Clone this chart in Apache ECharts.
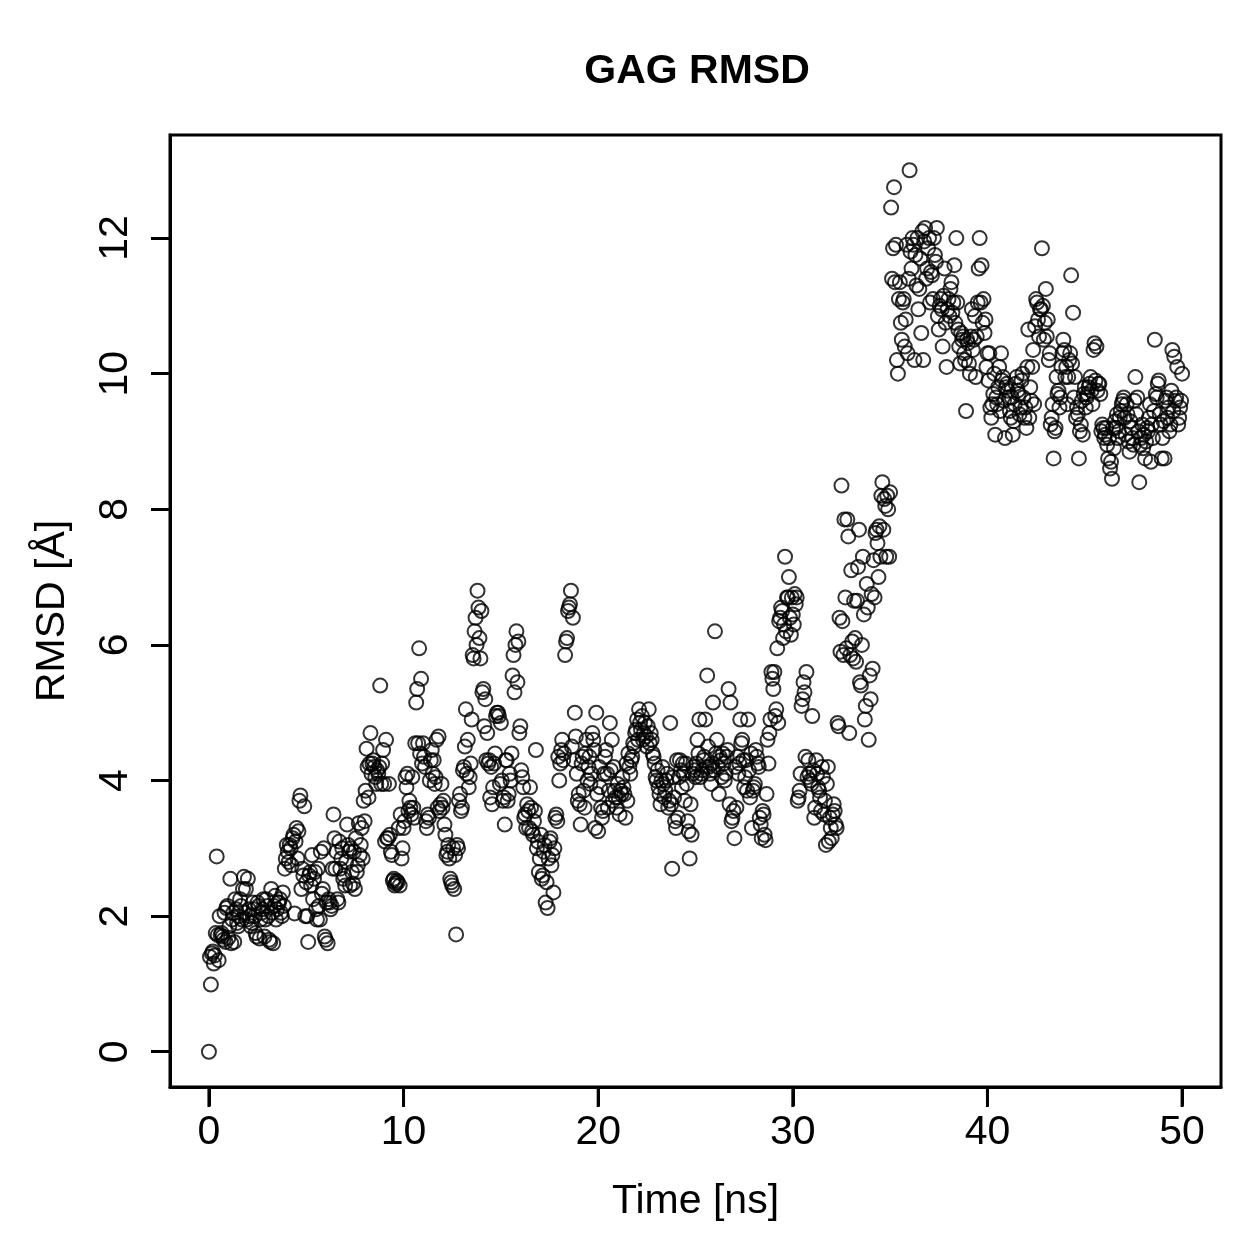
<!DOCTYPE html>
<html>
<head>
<meta charset="utf-8">
<title>GAG RMSD</title>
<script src="https://cdn.jsdelivr.net/npm/echarts@6/dist/echarts.min.js"></script>
<style>
  html, body { margin: 0; padding: 0; background: #fff; }
  #chart { width: 1259px; height: 1259px; }
</style>
</head>
<body>
<div id="chart"></div>
<script>
// frames on the whole 0.1 ns grid
const time = [
  0, 0.1, 0.2, 0.3, 0.4, 0.5, 0.6, 0.7, 0.8, 0.9,
  1.0, 1.1, 1.2, 1.3, 1.4, 1.5, 1.6, 1.7, 1.8, 1.9,
  2.0, 2.1, 2.2, 2.3, 2.4, 2.5, 2.6, 2.7, 2.8, 2.9,
  3.0, 3.1, 3.2, 3.3, 3.4, 3.5, 3.6, 3.7, 3.8, 3.9,
  4.0, 4.1, 4.2, 4.3, 4.4, 4.5, 4.6, 4.7, 4.8, 4.9,
  5.0, 5.1, 5.2, 5.3, 5.4, 5.5, 5.6, 5.7, 5.8, 5.9,
  6.0, 6.1, 6.2, 6.3, 6.4, 6.5, 6.6, 6.7, 6.8, 6.9,
  7.0, 7.1, 7.2, 7.3, 7.4, 7.5, 7.6, 7.7, 7.8, 7.9,
  8.0, 8.1, 8.2, 8.3, 8.4, 8.5, 8.6, 8.7, 8.8, 8.9,
  9.0, 9.1, 9.2, 9.3, 9.4, 9.5, 9.6, 9.7, 9.8, 9.9,
  10.0, 10.1, 10.2, 10.3, 10.4, 10.5, 10.6, 10.7, 10.8, 10.9,
  11.0, 11.1, 11.2, 11.3, 11.4, 11.5, 11.6, 11.7, 11.8, 11.9,
  12.0, 12.1, 12.2, 12.3, 12.4, 12.5, 12.6, 12.7, 12.8, 12.9,
  13.0, 13.1, 13.2, 13.3, 13.4, 13.5, 13.6, 13.7, 13.8, 13.9,
  14.0, 14.1, 14.2, 14.3, 14.4, 14.5, 14.6, 14.7, 14.8, 14.9,
  15.0, 15.1, 15.2, 15.3, 15.4, 15.5, 15.6, 15.7, 15.8, 15.9,
  16.0, 16.1, 16.2, 16.3, 16.4, 16.5, 16.6, 16.7, 16.8, 16.9,
  17.0, 17.1, 17.2, 17.3, 17.4, 17.5, 17.6, 17.7, 17.8, 17.9,
  18.0, 18.1, 18.2, 18.3, 18.4, 18.5, 18.6, 18.7, 18.8, 18.9,
  19.0, 19.1, 19.2, 19.3, 19.4, 19.5, 19.6, 19.7, 19.8, 19.9,
  20.0, 20.1, 20.2, 20.3, 20.4, 20.5, 20.6, 20.7, 20.8, 20.9,
  21.0, 21.1, 21.2, 21.3, 21.4, 21.5, 21.6, 21.7, 21.8, 21.9,
  22.0, 22.1, 22.2, 22.3, 22.4, 22.5, 22.6, 22.7, 22.8, 22.9,
  23.0, 23.1, 23.2, 23.3, 23.4, 23.5, 23.6, 23.7, 23.8, 23.9,
  24.0, 24.1, 24.2, 24.3, 24.4, 24.5, 24.6, 24.7, 24.8, 24.9,
  25.0, 25.1, 25.2, 25.3, 25.4, 25.5, 25.6, 25.7, 25.8, 25.9,
  26.0, 26.1, 26.2, 26.3, 26.4, 26.5, 26.6, 26.7, 26.8, 26.9,
  27.0, 27.1, 27.2, 27.3, 27.4, 27.5, 27.6, 27.7, 27.8, 27.9,
  28.0, 28.1, 28.2, 28.3, 28.4, 28.5, 28.6, 28.7, 28.8, 28.9,
  29.0, 29.1, 29.2, 29.3, 29.4, 29.5, 29.6, 29.7, 29.8, 29.9,
  30.0, 30.1, 30.2, 30.3, 30.4, 30.5, 30.6, 30.7, 30.8, 30.9,
  31.0, 31.1, 31.2, 31.3, 31.4, 31.5, 31.6, 31.7, 31.8, 31.9,
  32.0, 32.1, 32.2, 32.3, 32.4, 32.5, 32.6, 32.7, 32.8, 32.9,
  33.0, 33.1, 33.2, 33.3, 33.4, 33.5, 33.6, 33.7, 33.8, 33.9,
  34.0, 34.1, 34.2, 34.3, 34.4, 34.5, 34.6, 34.7, 34.8, 34.9,
  35.0, 35.1, 35.2, 35.3, 35.4, 35.5, 35.6, 35.7, 35.8, 35.9,
  36.0, 36.1, 36.2, 36.3, 36.4, 36.5, 36.6, 36.7, 36.8, 36.9,
  37.0, 37.1, 37.2, 37.3, 37.4, 37.5, 37.6, 37.7, 37.8, 37.9,
  38.0, 38.1, 38.2, 38.3, 38.4, 38.5, 38.6, 38.7, 38.8, 38.9,
  39.0, 39.1, 39.2, 39.3, 39.4, 39.5, 39.6, 39.7, 39.8, 39.9,
  40.0, 40.1, 40.2, 40.3, 40.4, 40.5, 40.6, 40.7, 40.8, 40.9,
  41.0, 41.1, 41.2, 41.3, 41.4, 41.5, 41.6, 41.7, 41.8, 41.9,
  42.0, 42.1, 42.2, 42.3, 42.4, 42.5, 42.6, 42.7, 42.8, 42.9,
  43.0, 43.1, 43.2, 43.3, 43.4, 43.5, 43.6, 43.7, 43.8, 43.9,
  44.0, 44.1, 44.2, 44.3, 44.4, 44.5, 44.6, 44.7, 44.8, 44.9,
  45.0, 45.1, 45.2, 45.3, 45.4, 45.5, 45.6, 45.7, 45.8, 45.9,
  46.0, 46.1, 46.2, 46.3, 46.4, 46.5, 46.6, 46.7, 46.8, 46.9,
  47.0, 47.1, 47.2, 47.3, 47.4, 47.5, 47.6, 47.7, 47.8, 47.9,
  48.0, 48.1, 48.2, 48.3, 48.4, 48.5, 48.6, 48.7, 48.8, 48.9,
  49.0, 49.1, 49.2, 49.3, 49.4, 49.5, 49.6, 49.7, 49.8, 49.9,
  50.0
];

const rmsd = [
  0.00, 0.99, 1.48, 1.42, 2.88, 1.35, 1.72, 1.70, 2.05, 2.12,
  1.68, 2.55, 1.95, 1.62, 2.10, 1.85, 2.25, 1.95, 2.58, 2.40,
  2.55, 2.00, 1.90, 2.10, 1.75, 2.20, 1.67, 2.05, 2.25, 1.95,
  2.15, 1.65, 2.40, 1.60, 2.30, 2.10, 2.20, 2.05, 2.35, 2.70,
  3.05, 2.80, 3.00, 3.15, 2.04, 3.30, 3.25, 3.78, 2.70, 3.62,
  2.50, 1.62, 2.65, 2.90, 2.55, 2.10, 2.70, 1.95, 2.33, 3.00,
  1.65, 1.60, 2.20, 2.15, 3.50, 2.70, 2.25, 3.10, 2.85, 2.55,
  2.45, 3.35, 2.95, 3.00, 2.48, 2.40, 2.65, 3.37, 3.05, 2.85,
  3.40, 4.47, 3.75, 4.70, 4.25, 4.20, 3.95, 4.10, 5.40, 4.25,
  3.95, 4.60, 3.15, 3.20, 2.90, 2.55, 2.48, 2.50, 2.45, 2.85,
  3.30, 4.05, 4.10, 3.70, 3.50, 3.60, 4.55, 5.35, 5.95, 5.50,
  4.55, 4.20, 3.30, 3.45, 4.30, 4.10, 3.95, 4.60, 4.65, 3.65,
  3.60, 3.35, 2.90, 3.05, 2.55, 2.45, 2.40, 1.73, 3.00, 3.80,
  3.60, 4.20, 5.05, 4.60, 4.05, 4.90, 5.80, 6.40, 6.80, 6.10,
  6.50, 5.35, 5.20, 4.70, 4.30, 4.20, 3.90, 4.40, 5.00, 4.95,
  4.85, 3.70, 3.35, 4.30, 3.80, 4.00, 5.55, 5.30, 6.20, 6.05,
  4.80, 4.05, 3.45, 3.30, 3.55, 3.90, 3.25, 3.40, 4.45, 3.10,
  2.85, 2.55, 2.95, 2.20, 2.12, 3.10, 2.75, 2.35, 3.45, 3.40,
  4.00, 4.45, 4.30, 5.85, 6.10, 6.55, 6.80, 6.40, 5.00, 4.10,
  3.80, 3.35, 4.35, 3.60, 4.60, 4.20, 3.95, 4.70, 4.45, 5.00,
  3.25, 3.90, 3.45, 4.10, 4.45, 3.60, 4.85, 4.60, 4.20, 3.75,
  3.95, 3.50, 3.80, 3.90, 3.45, 3.70, 4.20, 4.30, 4.55, 4.70,
  4.90, 5.05, 4.75, 4.60, 4.85, 4.50, 5.05, 4.70, 4.40, 4.25,
  4.00, 3.90, 3.65, 4.20, 3.75, 4.00, 3.60, 4.85, 2.70, 3.75,
  3.30, 3.45, 4.30, 3.90, 4.10, 4.25, 3.40, 2.85, 3.20, 4.20,
  4.05, 4.60, 4.90, 4.10, 4.30, 4.90, 5.55, 4.20, 3.95, 5.15,
  6.20, 4.60, 3.80, 4.30, 4.40, 4.00, 4.35, 5.35, 5.15, 3.45,
  3.15, 3.60, 4.10, 4.90, 4.60, 3.90, 4.30, 4.90, 3.75, 3.30,
  3.90, 4.45, 4.25, 3.45, 3.15, 3.50, 3.12, 4.60, 4.70, 5.60,
  5.35, 4.95, 5.95, 6.35, 6.55, 6.10, 7.30, 6.70, 7.00, 6.15,
  6.45, 6.75, 6.70, 3.75, 4.10, 5.20, 5.30, 5.60, 4.30, 4.00,
  4.95, 3.45, 4.30, 3.90, 3.75, 4.20, 3.50, 3.05, 4.20, 3.45,
  3.15, 3.65, 3.35, 4.85, 6.40, 8.35, 5.85, 6.70, 7.85, 4.70,
  7.10, 5.80, 6.10, 6.65, 7.70, 5.40, 7.30, 4.90, 6.90, 4.60,
  5.20, 5.65, 6.70, 7.70, 7.00, 7.30, 8.40, 8.15, 7.30, 8.00,
  8.25, 11.40, 12.75, 11.90, 10.00, 11.35, 10.50, 11.10, 10.80, 10.30,
  13.00, 11.55, 11.90, 11.75, 12.00, 11.25, 10.60, 10.20, 12.15, 11.55,
  12.00, 11.50, 11.10, 11.75, 12.15, 10.65, 11.10, 10.40, 11.55, 10.10,
  11.10, 11.25, 10.90, 11.60, 12.00, 10.65, 10.15, 10.50, 10.30, 9.45,
  10.45, 10.00, 10.95, 10.50, 9.95, 11.05, 12.00, 11.60, 11.10, 10.80,
  10.30, 10.30, 9.35, 9.70, 9.10, 9.55, 10.10, 10.30, 9.95, 9.05,
  9.85, 9.65, 9.35, 9.10, 9.55, 9.95, 9.70, 9.50, 10.00, 9.35,
  9.20, 10.65, 9.80, 10.10, 9.55, 11.10, 10.80, 10.95, 11.85, 10.50,
  11.25, 10.80, 10.30, 9.35, 8.75, 9.20, 9.70, 9.50, 10.10, 10.50,
  9.95, 9.55, 10.20, 11.45, 10.90, 9.95, 9.50, 8.75, 9.25, 9.10,
  9.80, 9.65, 9.80, 9.95, 9.55, 10.45, 10.40, 9.85, 9.70, 9.25,
  9.05, 9.20, 8.75, 8.60, 8.45, 8.90, 9.20, 9.05, 9.35, 9.55,
  9.65, 9.10, 9.40, 8.85, 9.20, 8.95, 9.95, 9.65, 8.40, 9.05,
  8.90, 8.75, 9.20, 9.35, 8.70, 9.05, 10.50, 9.65, 9.90, 9.25,
  9.05, 8.75, 9.65, 9.50, 9.25, 10.35, 10.25, 9.65, 9.25, 9.50,
  10.00
];

// frames in between (x.x5 ns), read from the same clusters
const timeHalf = [
  0.05, 0.15, 0.25, 0.35, 0.45, 0.55, 0.65, 0.75, 0.85, 0.95,
  1.05, 1.15, 1.25, 1.35, 1.45, 1.55, 1.65, 1.75, 1.85, 1.95,
  2.05, 2.15, 2.25, 2.35, 2.45, 2.55, 2.65, 2.75, 2.85, 2.95,
  3.05, 3.15, 3.25, 3.35, 3.45, 3.55, 3.65, 3.75, 3.85, 3.95,
  4.05, 4.15, 4.25, 4.35, 4.45, 4.55, 4.65, 4.75, 4.85, 4.95,
  5.05, 5.15, 5.25, 5.35, 5.45, 5.55, 5.65, 5.75, 5.85, 5.95,
  6.05, 6.15, 6.25, 6.35, 6.45, 6.55, 6.65, 6.75, 6.85, 6.95,
  7.05, 7.15, 7.25, 7.35, 7.45, 7.55, 7.65, 7.75, 7.85, 7.95,
  8.05, 8.15, 8.25, 8.35, 8.45, 8.55, 8.65, 8.75, 8.85, 8.95,
  9.05, 9.15, 9.25, 9.35, 9.45, 9.55, 9.65, 9.75, 9.85, 9.95,
  10.05, 10.15, 10.25, 10.35, 10.45, 10.55, 10.65, 10.75, 10.85, 10.95,
  11.05, 11.15, 11.25, 11.35, 11.45, 11.55, 11.65, 11.75, 11.85, 11.95,
  12.05, 12.15, 12.25, 12.35, 12.45, 12.55, 12.65, 12.75, 12.85, 12.95,
  13.05, 13.15, 13.25, 13.35, 13.45, 13.55, 13.65, 13.75, 13.85, 13.95,
  14.05, 14.15, 14.25, 14.35, 14.45, 14.55, 14.65, 14.75, 14.85, 14.95,
  15.05, 15.15, 15.25, 15.35, 15.45, 15.55, 15.65, 15.75, 15.85, 15.95,
  16.05, 16.15, 16.25, 16.35, 16.45, 16.55, 16.65, 16.75, 16.85, 16.95,
  17.05, 17.15, 17.25, 17.35, 17.45, 17.55, 17.65, 17.75, 17.85, 17.95,
  18.05, 18.15, 18.25, 18.35, 18.45, 18.55, 18.65, 18.75, 18.85, 18.95,
  19.05, 19.15, 19.25, 19.35, 19.45, 19.55, 19.65, 19.75, 19.85, 19.95,
  20.05, 20.15, 20.25, 20.35, 20.45, 20.55, 20.65, 20.75, 20.85, 20.95,
  21.05, 21.15, 21.25, 21.35, 21.45, 21.55, 21.65, 21.75, 21.85, 21.95,
  22.05, 22.15, 22.25, 22.35, 22.45, 22.55, 22.65, 22.75, 22.85, 22.95,
  23.05, 23.15, 23.25, 23.35, 23.45, 23.55, 23.65, 23.75, 23.85, 23.95,
  24.05, 24.15, 24.25, 24.35, 24.45, 24.55, 24.65, 24.75, 24.85, 24.95,
  25.05, 25.15, 25.25, 25.35, 25.45, 25.55, 25.65, 25.75, 25.85, 25.95,
  26.05, 26.15, 26.25, 26.35, 26.45, 26.55, 26.65, 26.75, 26.85, 26.95,
  27.05, 27.15, 27.25, 27.35, 27.45, 27.55, 27.65, 27.75, 27.85, 27.95,
  28.05, 28.15, 28.25, 28.35, 28.45, 28.55, 28.65, 28.75, 28.85, 28.95,
  29.05, 29.15, 29.25, 29.35, 29.45, 29.55, 29.65, 29.75, 29.85, 29.95,
  30.05, 30.15, 30.25, 30.35, 30.45, 30.55, 30.65, 30.75, 30.85, 30.95,
  31.05, 31.15, 31.25, 31.35, 31.45, 31.55, 31.65, 31.75, 31.85, 31.95,
  32.05, 32.15, 32.25, 32.35, 32.45, 32.55, 32.65, 32.75, 32.85, 32.95,
  33.05, 33.15, 33.25, 33.35, 33.45, 33.55, 33.65, 33.75, 33.85, 33.95,
  34.05, 34.15, 34.25, 34.35, 34.45, 34.55, 34.65, 34.75, 34.85, 34.95,
  35.05, 35.15, 35.25, 35.35, 35.45, 35.55, 35.65, 35.75, 35.85, 35.95,
  36.05, 36.15, 36.25, 36.35, 36.45, 36.55, 36.65, 36.75, 36.85, 36.95,
  37.05, 37.15, 37.25, 37.35, 37.45, 37.55, 37.65, 37.75, 37.85, 37.95,
  38.05, 38.15, 38.25, 38.35, 38.45, 38.55, 38.65, 38.75, 38.85, 38.95,
  39.05, 39.15, 39.25, 39.35, 39.45, 39.55, 39.65, 39.75, 39.85, 39.95,
  40.05, 40.15, 40.25, 40.35, 40.45, 40.55, 40.65, 40.75, 40.85, 40.95,
  41.05, 41.15, 41.25, 41.35, 41.45, 41.55, 41.65, 41.75, 41.85, 41.95,
  42.05, 42.15, 42.25, 42.35, 42.45, 42.55, 42.65, 42.75, 42.85, 42.95,
  43.05, 43.15, 43.25, 43.35, 43.45, 43.55, 43.65, 43.75, 43.85, 43.95,
  44.05, 44.15, 44.25, 44.35, 44.45, 44.55, 44.65, 44.75, 44.85, 44.95,
  45.05, 45.15, 45.25, 45.35, 45.45, 45.55, 45.65, 45.75, 45.85, 45.95,
  46.05, 46.15, 46.25, 46.35, 46.45, 46.55, 46.65, 46.75, 46.85, 46.95,
  47.05, 47.15, 47.25, 47.35, 47.45, 47.55, 47.65, 47.75, 47.85, 47.95,
  48.05, 48.15, 48.25, 48.35, 48.45, 48.55, 48.65, 48.75, 48.85, 48.95,
  49.05, 49.15, 49.25, 49.35, 49.45, 49.55, 49.65, 49.75, 49.85, 49.95
];

const rmsdHalf = [
  1.40, 1.45, 1.30, 1.75, 1.72, 2.00, 1.75, 1.65, 1.62, 2.15,
  1.85, 1.60, 2.05, 2.25, 1.90, 2.00, 2.15, 2.40, 2.05, 1.95,
  2.10, 1.85, 2.20, 2.00, 1.70, 2.15, 1.95, 2.10, 1.70, 2.25,
  2.00, 1.62, 2.05, 2.15, 1.95, 2.20, 2.25, 2.00, 2.15, 2.85,
  2.95, 3.05, 2.75, 3.20, 3.10, 2.85, 3.70, 2.40, 2.60, 2.00,
  2.00, 2.60, 2.45, 2.25, 2.65, 1.95, 2.15, 2.95, 2.40, 1.70,
  2.20, 2.25, 2.10, 2.70, 3.15, 2.95, 2.20, 2.70, 3.00, 2.60,
  2.80, 3.05, 2.45, 2.65, 2.95, 3.15, 2.75, 2.90, 3.30, 3.70,
  3.85, 4.20, 4.25, 4.10, 4.30, 4.05, 4.15, 4.20, 3.95, 4.45,
  3.10, 3.15, 3.95, 2.95, 2.52, 2.45, 2.52, 3.30, 3.50, 3.00,
  3.40, 3.90, 3.55, 3.60, 4.05, 3.45, 5.15, 4.55, 4.40, 4.25,
  4.35, 3.40, 3.50, 4.00, 4.45, 4.30, 4.05, 3.60, 3.55, 3.95,
  3.70, 3.20, 2.95, 2.85, 2.50, 3.00, 2.90, 3.05, 3.70, 3.55,
  4.15, 4.50, 4.10, 3.90, 4.25, 5.85, 6.20, 6.00, 6.55, 5.80,
  5.30, 4.80, 4.30, 4.25, 3.75, 3.65, 4.25, 4.95, 5.00, 3.95,
  4.00, 3.75, 4.30, 3.70, 4.10, 4.40, 5.85, 6.00, 5.45, 4.70,
  4.15, 3.90, 3.50, 3.65, 3.30, 3.60, 3.20, 3.55, 3.00, 2.65,
  3.20, 2.60, 3.05, 2.50, 2.85, 3.15, 2.90, 3.00, 3.50, 4.35,
  4.25, 4.60, 4.40, 6.05, 6.50, 6.60, 4.50, 4.30, 4.65, 3.70,
  3.65, 4.25, 3.85, 4.40, 4.00, 4.35, 4.10, 4.60, 3.30, 3.80,
  4.20, 3.60, 3.55, 4.35, 4.10, 3.85, 4.15, 3.70, 3.85, 3.60,
  3.75, 3.85, 4.05, 3.80, 4.25, 4.40, 4.10, 4.35, 4.50, 4.75,
  4.60, 4.85, 4.95, 4.70, 4.65, 4.80, 4.55, 4.60, 4.35, 4.05,
  4.15, 3.80, 4.00, 3.95, 3.85, 4.10, 3.70, 3.65, 4.05, 3.40,
  4.30, 4.05, 4.15, 4.25, 3.70, 3.95, 3.25, 3.65, 4.10, 4.15,
  4.25, 4.40, 4.05, 4.15, 4.35, 4.20, 4.50, 4.10, 4.25, 4.15,
  4.40, 4.20, 4.35, 4.05, 4.25, 4.10, 4.45, 3.65, 3.40, 3.55,
  4.20, 4.35, 4.25, 4.55, 4.30, 4.05, 3.85, 4.15, 4.40, 3.85,
  3.95, 4.35, 4.20, 3.35, 3.55, 3.20, 3.80, 4.25, 4.90, 5.50,
  5.60, 5.05, 4.85, 6.40, 6.50, 6.30, 6.20, 6.70, 6.40, 6.70,
  6.30, 6.60, 3.70, 3.85, 5.10, 5.45, 4.35, 4.05, 4.10, 3.95,
  4.15, 3.60, 4.10, 3.85, 3.55, 4.05, 3.70, 3.95, 3.10, 3.30,
  3.50, 3.55, 3.30, 4.80, 5.90, 6.35, 7.85, 5.95, 7.60, 5.85,
  6.05, 6.65, 5.75, 7.15, 5.45, 6.00, 6.45, 5.10, 6.55, 5.55,
  6.75, 7.25, 7.65, 7.50, 7.75, 8.20, 7.70, 8.05, 8.20, 7.30,
  12.45, 11.85, 11.35, 10.20, 11.10, 10.75, 11.05, 10.40, 11.90, 11.40,
  11.80, 12.00, 10.20, 11.30, 10.95, 11.70, 12.10, 11.95, 11.40, 11.85,
  11.05, 11.45, 12.00, 11.65, 10.85, 11.00, 10.95, 11.15, 10.75, 10.95,
  10.85, 11.35, 11.05, 10.75, 11.05, 10.40, 10.60, 10.55, 10.20, 10.50,
  10.15, 10.55, 10.35, 10.85, 10.55, 11.55, 11.05, 10.75, 10.60, 10.10,
  9.90, 9.50, 9.55, 10.00, 9.65, 9.80, 9.45, 9.90, 9.60, 9.80,
  9.75, 9.45, 9.65, 9.30, 9.85, 9.75, 9.40, 9.90, 9.65, 9.50,
  10.10, 9.35, 9.60, 10.35, 10.70, 11.05, 10.55, 10.95, 11.00, 10.75,
  10.55, 10.20, 9.25, 9.55, 9.15, 9.95, 9.75, 9.65, 10.30, 10.35,
  10.10, 9.95, 10.30, 10.15, 9.65, 9.35, 9.40, 9.15, 9.60, 9.70,
  9.50, 9.70, 9.85, 9.75, 10.35, 9.90, 9.75, 9.85, 9.15, 9.20,
  9.10, 8.95, 9.05, 8.70, 9.20, 9.30, 9.40, 9.15, 9.45, 9.60,
  9.35, 9.55, 9.00, 9.30, 9.05, 9.60, 9.40, 9.15, 8.95, 9.25,
  9.10, 9.00, 9.15, 9.55, 9.25, 9.45, 9.70, 9.85, 9.40, 8.75,
  9.30, 9.60, 9.35, 9.15, 9.75, 9.45, 9.60, 10.10, 9.35, 9.60
];

const xTicks = [0, 10, 20, 30, 40, 50];
const yTicks = [0, 2, 4, 6, 8, 10, 12];

const font = 'Liberation Sans, Arial, Helvetica, sans-serif';

let chart = echarts.init(document.getElementById('chart'));

let points = time.map(function (t, i) { return [t, rmsd[i]]; })
  .concat(timeHalf.map(function (t, i) { return [t, rmsdHalf[i]]; }));

let option = {
  animation: false,
  title: {
    text: 'GAG RMSD',
    left: 692,
    top: 46,
    textAlign: 'center',
    textStyle: { fontFamily: font, fontWeight: 'bold', fontSize: 41, color: '#000' }
  },
  grid: {
    left: 170, top: 135, width: 1051, height: 952,
    show: true, borderColor: '#000', borderWidth: 3
  },
  xAxis: {
    type: 'value',
    min: -2,
    max: 52,
    name: 'Time [ns]',
    nameLocation: 'middle',
    nameGap: 94,
    nameTextStyle: { fontFamily: font, fontSize: 41, color: '#000' },
    axisLine: { show: true, onZero: false, lineStyle: { color: '#000', width: 3 } },
    splitLine: { show: false },
    axisTick: { show: true, length: 19, customValues: xTicks, lineStyle: { color: '#000', width: 3 } },
    axisLabel: { customValues: xTicks, fontFamily: font, fontSize: 41, color: '#000', margin: 25 }
  },
  yAxis: {
    type: 'value',
    min: -0.52,
    max: 13.52,
    name: 'RMSD [Å]',
    nameLocation: 'middle',
    nameGap: 97,
    nameTextStyle: { fontFamily: font, fontSize: 41, color: '#000' },
    axisLine: { show: true, onZero: false, lineStyle: { color: '#000', width: 3 } },
    splitLine: { show: false },
    axisTick: { show: true, length: 19, customValues: yTicks, lineStyle: { color: '#000', width: 3 } },
    axisLabel: { customValues: yTicks, rotate: 90, fontFamily: font, fontSize: 41, color: '#000', margin: 34 }
  },
  series: [
    {
      type: 'scatter',
      data: points,
      symbol: 'circle',
      symbolSize: 14,
      itemStyle: { color: 'rgba(0,0,0,0)', borderColor: '#000', borderWidth: 2 },
      emphasis: { disabled: true }
    }
  ]
};

chart.setOption(option);

// bottom tick marks, placed through the grid's own scales on a layer above everything
let tickMarks = xTicks.map(function (v) {
  let p = chart.convertToPixel({ gridIndex: 0 }, [v, -0.52]);
  return {
    type: 'rect',
    zlevel: 5,
    z: 100,
    silent: true,
    shape: { x: p[0] - 1.5, y: p[1], width: 3, height: 20 },
    style: { fill: '#000' }
  };
});
chart.setOption({ graphic: { elements: tickMarks } });
</script>
</body>
</html>
